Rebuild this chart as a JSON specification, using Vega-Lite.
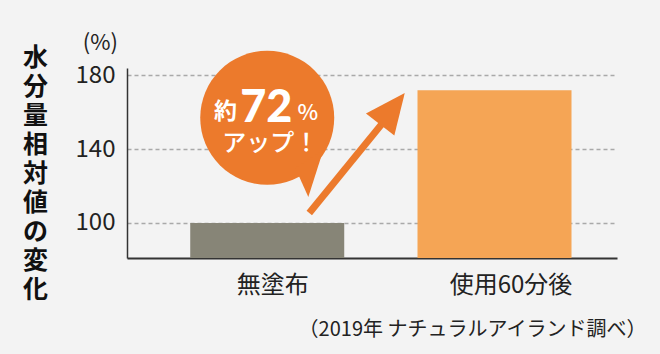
{
  "$schema": "https://vega.github.io/schema/vega-lite/v6.json",
  "width": 490,
  "height": 190,
  "autosize": {"type": "none"},
  "padding": {"left": 127, "top": 68, "right": 43, "bottom": 96},
  "background": "#f3f3f3",
  "config": {"view": {"stroke": null}, "font": "Noto Sans CJK JP"},
  "data": {"values": [
    {"条件": "無塗布", "pos": 1, "値": 100},
    {"条件": "使用60分後", "pos": 2, "値": 172}
  ]},
  "layer": [
    {
      "mark": {"type": "bar", "width": 154},
      "encoding": {
        "x": {"field": "pos", "type": "quantitative",
          "scale": {"domain": [0.405, 2.517], "nice": false, "zero": false},
          "axis": {"values": [1, 2], "labelExpr": "datum.value == 1 ? '無塗布' : '使用60分後'", "labelFontSize": 24, "labelColor": "#222222", "labelPadding": 15,
            "labelOffset": {"condition": {"test": "datum.value == 2", "value": 16}, "value": 5},
            "ticks": false, "grid": false, "domainColor": "#333333", "domainWidth": 2,
            "title": "（2019年 ナチュラルアイランド調べ）", "titleFontSize": 20, "titleFontWeight": "normal", "titleColor": "#222222", "titleAlign": "right", "titleX": 519, "titleY": 61, "titleBaseline": "top"}},
        "y": {"field": "値", "type": "quantitative",
          "scale": {"domain": [81, 184], "nice": false, "zero": false},
          "axis": {"values": [100, 140, 180], "labelFontSize": 24, "labelColor": "#222222", "labelPadding": 12, "ticks": false, "domainColor": "#333333", "domainWidth": 1.5,
            "grid": true, "gridColor": "#a9a9a9", "gridDash": [4, 3], "gridWidth": 1.6,
            "title": ["水", "分", "量", "相", "対", "値", "の", "変", "化"], "titleAngle": 0, "titleFontSize": 25, "titleFontWeight": "bold", "titleColor": "#111111", "titleLineHeight": 29, "titleAlign": "center", "titleBaseline": "top", "titleX": -92, "titleY": -23}},
        "y2": {"datum": 81},
        "color": {"field": "条件", "type": "nominal", "scale": {"domain": ["無塗布", "使用60分後"], "range": ["#878577", "#f5a555"]}, "legend": null}
      }
    },
    {
      "data": {"values": [{}]},
      "mark": {"type": "text", "text": "(%)", "fontSize": 22, "color": "#222222", "align": "right", "baseline": "middle"},
      "encoding": {
        "x": {"datum": 0.343, "type": "quantitative"},
        "y": {"datum": 197.8, "type": "quantitative"}
      }
    },
    {
      "data": {"values": [{}]},
      "mark": {"type": "rule", "color": "#ec7a2c", "strokeWidth": 7, "strokeCap": "butt"},
      "encoding": {
        "x": {"datum": 1.185, "type": "quantitative"},
        "y": {"datum": 105.4, "type": "quantitative"},
        "x2": {"datum": 1.52},
        "y2": {"datum": 156}
      }
    },
    {
      "data": {"values": [{}]},
      "mark": {"type": "point", "shape": "M0,-1L-0.9,1L0.9,1Z", "size": 1600, "angle": 38, "filled": true, "color": "#ec7a2c", "opacity": 1},
      "encoding": {
        "x": {"datum": 1.551, "type": "quantitative"},
        "y": {"datum": 161.9, "type": "quantitative"}
      }
    },
    {
      "data": {"values": [{}]},
      "mark": {"type": "point", "shape": "circle", "size": 17956, "filled": true, "color": "#ec7a2c", "opacity": 1},
      "encoding": {
        "x": {"datum": 1.0, "type": "quantitative"},
        "y": {"datum": 157, "type": "quantitative"}
      }
    },
    {
      "data": {"values": [{}]},
      "mark": {"type": "point", "shape": "M-0.64,-0.28L0.48,-1L-0.12,0.88Z", "size": 2500, "filled": true, "color": "#ec7a2c", "opacity": 1},
      "encoding": {
        "x": {"datum": 1.194, "type": "quantitative"},
        "y": {"datum": 126, "type": "quantitative"}
      }
    },
    {
      "data": {"values": [{}]},
      "mark": {"type": "text", "text": "約", "fontSize": 23, "fontWeight": "bold", "color": "white", "align": "center", "baseline": "middle"},
      "encoding": {
        "x": {"datum": 0.816, "type": "quantitative"},
        "y": {"datum": 159.9, "type": "quantitative"}
      }
    },
    {
      "data": {"values": [{}]},
      "mark": {"type": "text", "text": "72", "font": "Lato", "fontSize": 45, "fontWeight": 900, "color": "white", "align": "center", "baseline": "alphabetic"},
      "encoding": {
        "x": {"datum": 0.996, "type": "quantitative"},
        "y": {"datum": 154.9, "type": "quantitative"}
      }
    },
    {
      "data": {"values": [{}]},
      "mark": {"type": "text", "text": "%", "fontSize": 22, "fontWeight": 500, "color": "white", "align": "center", "baseline": "middle"},
      "encoding": {
        "x": {"datum": 1.179, "type": "quantitative"},
        "y": {"datum": 159.4, "type": "quantitative"}
      }
    },
    {
      "data": {"values": [{}]},
      "mark": {"type": "text", "text": "アップ！", "fontSize": 24, "fontWeight": 500, "color": "white", "align": "center", "baseline": "middle"},
      "encoding": {
        "x": {"datum": 1.013, "type": "quantitative"},
        "y": {"datum": 142.8, "type": "quantitative"}
      }
    }
  ]
}
